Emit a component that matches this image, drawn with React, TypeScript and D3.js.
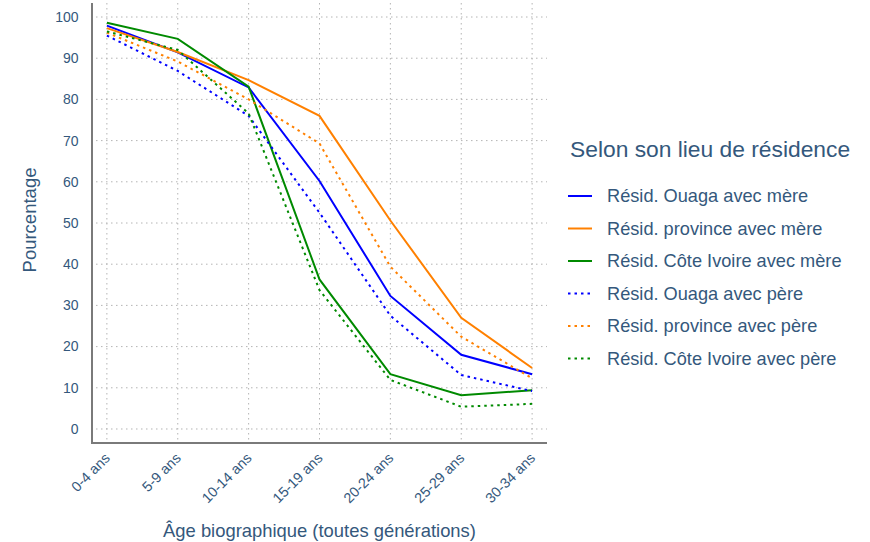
import React from "react";
import * as d3 from "d3";

const categories = ["0-4 ans", "5-9 ans", "10-14 ans", "15-19 ans", "20-24 ans", "25-29 ans", "30-34 ans"];
const yTicks = [0, 10, 20, 30, 40, 50, 60, 70, 80, 90, 100];

const ouagaMere = [97.9, 91.4, 82.9, 60.2, 32.3, 18.0, 13.3];
const provinceMere = [97.3, 91.5, 84.7, 76.0, 50.6, 27.0, 14.8];
const coteIvoireMere = [98.6, 94.7, 83.1, 36.3, 13.3, 8.2, 9.4];
const ouagaPere = [95.5, 86.9, 76.0, 52.5, 27.5, 13.1, 9.2];
const provincePere = [96.2, 89.2, 80.0, 69.3, 39.4, 22.4, 12.3];
const coteIvoirePere = [96.5, 92.0, 76.6, 33.7, 11.9, 5.4, 6.1];

const seriesNames = [
  "Résid. Ouaga avec mère",
  "Résid. province avec mère",
  "Résid. Côte Ivoire avec mère",
  "Résid. Ouaga avec père",
  "Résid. province avec père",
  "Résid. Côte Ivoire avec père",
];
const seriesValues = [ouagaMere, provinceMere, coteIvoireMere, ouagaPere, provincePere, coteIvoirePere];
const seriesColors = ["#0000ff", "#ff8000", "#008a00", "#0000ff", "#ff8000", "#008a00"];
const seriesDashed = [false, false, false, true, true, true];

const legendTitle = "Selon son lieu de résidence";
const xTitle = "Âge biographique (toutes générations)";
const yTitle = "Pourcentage";

const TEXT = "#34587c";
const FONT = "'Liberation Sans', Arial, Helvetica, sans-serif";

export default function App() {
  const W = 870, H = 542;
  const left = 92, right = 547, top = 3, bottom = 443;
  const x = d3.scalePoint<string>().domain(categories).range([left, right]).padding(0.21);
  const y = d3.scaleLinear().domain([-3.4, 103.4]).range([bottom, top]);
  const line = d3.line<number>().x((_, i) => x(categories[i]) as number).y((d) => y(d));

  return (
    <svg width={W} height={H} style={{ position: "absolute", left: 0, top: 0, fontFamily: FONT }}>
      {/* grid */}
      {yTicks.map((t) => (
        <line key={"gy" + t} x1={left + 4} x2={right} y1={y(t)} y2={y(t)} stroke="#b4b4b4" strokeWidth={1} strokeDasharray="1.5,3.5" />
      ))}
      {categories.map((c) => (
        <line key={"gx" + c} x1={x(c)} x2={x(c)} y1={top} y2={bottom} stroke="#b4b4b4" strokeWidth={1} strokeDasharray="1.5,3.5" />
      ))}
      {/* axes */}
      <line x1={left} x2={left} y1={top} y2={bottom + 1} stroke="#7a7a7a" strokeWidth={2} />
      <line x1={left} x2={right} y1={bottom} y2={bottom} stroke="#7a7a7a" strokeWidth={2} />
      {/* y tick labels */}
      {yTicks.map((t) => (
        <text key={"yl" + t} x={78.5} y={y(t)} dy="0.35em" textAnchor="end" fontSize={14} fill={TEXT}>
          {t}
        </text>
      ))}
      {/* x tick labels */}
      {categories.map((c) => (
        <text
          key={"xl" + c}
          transform={`translate(${(x(c) as number) + 4},${459}) rotate(-45)`}
          textAnchor="end"
          fontSize={14.3}
          fill={TEXT}
        >
          {c}
        </text>
      ))}
      {/* axis titles */}
      <text x={319.5} y={537} textAnchor="middle" fontSize={18.4} fill={TEXT}>
        {xTitle}
      </text>
      <text transform={`translate(36,${y(50) - 3}) rotate(-90)`} textAnchor="middle" fontSize={18.5} fill={TEXT}>
        {yTitle}
      </text>
      {/* lines */}
      {seriesValues.map((vals, i) => (
        <path
          key={"s" + i}
          d={line(vals) as string}
          fill="none"
          stroke={seriesColors[i]}
          strokeWidth={2}
          strokeDasharray={seriesDashed[i] ? "2.5,4" : undefined}
        />
      ))}
      {/* legend */}
      <text x={570} y={157} fontSize={22.8} fill={TEXT}>
        {legendTitle}
      </text>
      {seriesNames.map((n, i) => {
        const ly = 196 + i * 32.5;
        return (
          <g key={"lg" + i}>
            <line x1={568} x2={592} y1={ly} y2={ly} stroke={seriesColors[i]} strokeWidth={2} strokeDasharray={seriesDashed[i] ? "2.5,4" : undefined} />
            <text x={607} y={ly} dy="0.35em" fontSize={18.2} fill={TEXT}>
              {n}
            </text>
          </g>
        );
      })}
    </svg>
  );
}
